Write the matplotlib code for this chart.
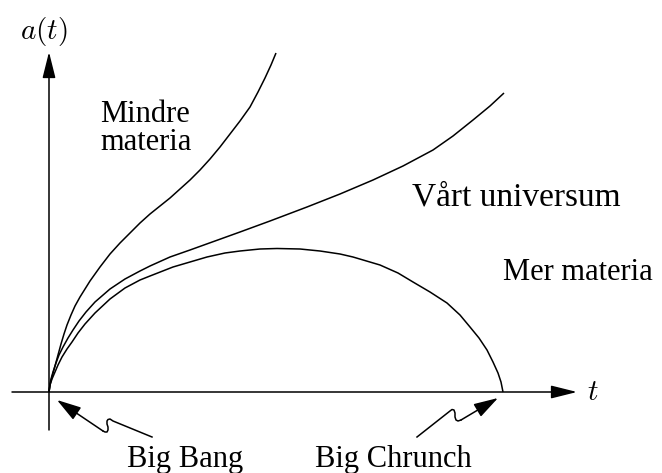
import matplotlib
matplotlib.use("Agg")
import matplotlib.pyplot as plt

plt.rcParams["font.family"] = ["Liberation Serif", "DejaVu Serif"]
plt.rcParams["mathtext.fontset"] = "cm"

# scale factor a(t) for the three cases, arbitrary units read by eye
t_less = [0, 1, 3, 6, 9, 12, 15, 18, 22, 26, 31, 36, 41, 51, 61, 71, 81, 91, 101, 111, 121,
          131, 141, 151, 161, 171, 181, 191, 201, 209, 216, 222, 227]
a_less = [0, 7, 15, 26, 37, 48, 58, 67, 77, 86, 95, 103, 111, 125, 138, 149, 159, 169, 178,
          186, 194, 203, 212, 222, 233, 245, 258, 271, 285, 300, 314, 327, 339]

t_ours = [0, 1, 2, 4, 7, 10, 14, 19, 24, 30, 37, 46, 61, 76, 91, 101, 121, 141, 166, 191,
          221, 258, 291, 324, 354, 384, 404, 424, 441, 455]
a_ours = [0, 8, 13, 20, 29, 37, 45, 54, 62, 71, 80, 90, 103, 113, 121, 126, 135, 142, 151,
          160, 171, 185, 198, 212, 226, 242, 256, 272, 286, 299]

t_more = [0, 1, 3, 6, 9, 13, 18, 23, 29, 36, 46, 61, 76, 91, 101, 124, 141, 158, 176, 191,
          211, 228, 251, 271, 291, 304, 331, 349, 364, 381, 398, 411, 421, 430, 438, 444,
          449, 452, 454]
a_more = [0, 7, 13, 20, 27, 35, 43, 50, 59, 68, 79, 93, 104, 112, 116, 125, 130, 135, 139,
          141, 143, 143.5, 143, 141, 138, 135, 127, 119, 110, 100, 89, 77, 65, 54, 42, 30,
          19, 10, 0]

# zigzag pointers (tail first, arrow tip last)
bang_t = [103, 64, 61, 59, 58, 58, 59, 59, 58, 56, 54, 8]
bang_a = [-45, -29, -27, -27.5, -29, -32, -35, -38, -40, -40, -39, -8]
crunch_t = [368, 401, 403, 405, 406, 406, 407, 409, 412, 449]
crunch_a = [-45, -19, -17.5, -18, -21, -25, -28, -29, -28, -6]

fig = plt.figure(figsize=(6.62, 4.73), dpi=100)
ax = fig.add_axes([0, 0, 1, 1])
ax.set_xlim(-49, 613)
ax.set_ylim(-81, 392)
ax.axis("off")

lw = 1.1
for t, a in [(t_less, a_less), (t_ours, a_ours), (t_more, a_more)]:
    ax.plot(t, a, color="black", lw=lw, solid_joinstyle="round", solid_capstyle="butt")

# axes with arrow heads
axis_style = "-|>,head_length=1.6,head_width=0.4"
ax.annotate("", xy=(528, 0), xytext=(-37, 0),
            arrowprops=dict(arrowstyle=axis_style, color="black", lw=lw,
                            shrinkA=0, shrinkB=0, mutation_scale=10))
ax.annotate("", xy=(0, 340), xytext=(0, -38),
            arrowprops=dict(arrowstyle=axis_style, color="black", lw=lw,
                            shrinkA=0, shrinkB=0, mutation_scale=10))

ptr_style = "-|>,head_length=1.5,head_width=0.45"
for t, a in [(bang_t, bang_a), (crunch_t, crunch_a)]:
    ax.plot(t[:-1], a[:-1], color="black", lw=lw, solid_joinstyle="round")
    ax.annotate("", xy=(t[-1], a[-1]), xytext=(t[-2], a[-2]),
                arrowprops=dict(arrowstyle=ptr_style, color="black", lw=lw,
                                shrinkA=0, shrinkB=0, mutation_scale=10))

fs = 22
ax.text(-29, 353, r"$a(t)$", fontsize=21, va="baseline", ha="left")
ax.text(538, -8, r"$t$", fontsize=21, va="baseline", ha="left")
ax.text(51, 270, "Mindre", fontsize=fs, va="baseline", ha="left")
ax.text(51, 242, "materia", fontsize=fs, va="baseline", ha="left")
ax.text(363, 187, "Vårt universum", fontsize=24, va="baseline", ha="left")
ax.text(454, 112, "Mer materia", fontsize=fs, va="baseline", ha="left")
ax.text(78, -75, "Big Bang", fontsize=fs, va="baseline", ha="left")
ax.text(266, -75, "Big Chrunch", fontsize=fs, va="baseline", ha="left")

fig.savefig("out.png", dpi=100, facecolor="white")
